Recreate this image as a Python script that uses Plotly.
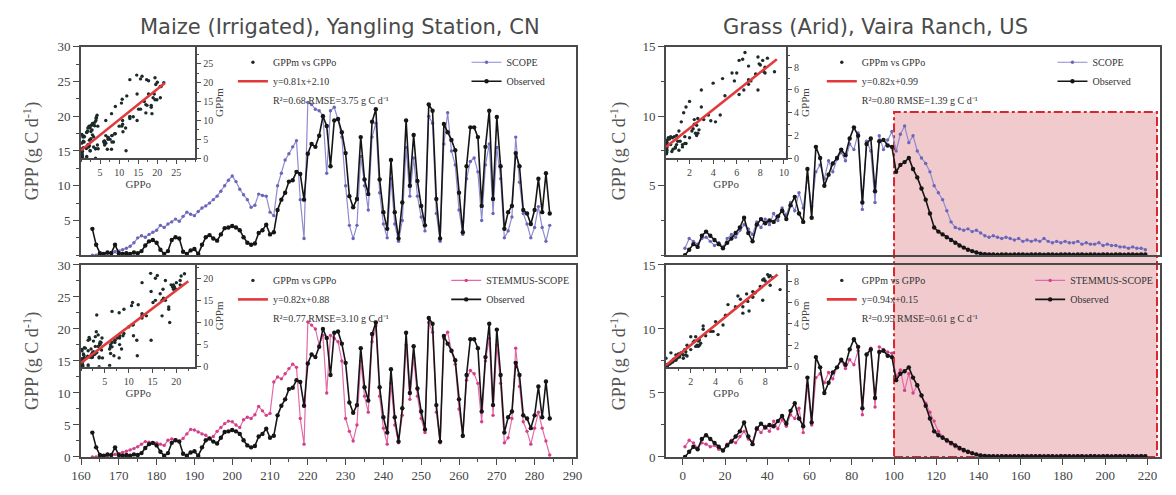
import plotly.graph_objects as go

W, H = 1176, 495

# ---------------- Data: Maize (Irrigated), Yangling Station ----------------
maize_days = list(range(163, 285))
maize_obs = [3.8, 1.5, 0.3, 0.2, 0.4, 0.3, 1.5, 0.3, 0.2, 0.3,
             0.2, 0.4, 0.3, 0.6, 1.4, 2.0, 2.2, 1.8, 0.8, 0.2,
             0.6, 2.2, 2.6, 2.4, 0.5, 0.2, 0.7, 0.9, 0.2, 1.5,
             2.6, 2.9, 2.4, 2.1, 3.0, 3.9, 4.0, 4.2, 4.0, 3.6,
             2.6, 1.8, 1.5, 1.7, 3.2, 3.6, 4.4, 3.0, 3.3, 6.5,
             8.0, 9.0, 10.6, 10.8, 12.0, 11.7, 8.0, 14.6, 16.0, 15.6,
             17.2, 20.0, 18.6, 12.8, 19.4, 19.6, 17.7, 14.7, 8.5, 6.9,
             8.1, 17.0, 10.9, 8.8, 19.2, 21.0, 10.9, 6.2, 3.8, 13.7,
             6.2, 2.4, 7.6, 19.4, 10.0, 17.3, 10.7, 7.1, 4.3, 21.7,
             20.8, 8.1, 2.4, 18.9, 17.7, 16.6, 15.1, 9.0, 3.3, 12.8,
             18.4, 18.4, 17.0, 7.1, 15.6, 20.8, 8.1, 19.9, 12.8, 3.8,
             6.2, 7.1, 14.7, 12.8, 6.5, 6.0, 4.5, 6.5, 11.0, 6.2,
             11.8, 6.0]
maize_scope = [0.0, 0.0, 0.1, 0.2, 0.3, 0.4, 0.5, 0.6, 0.8, 1.0,
               1.3, 1.8, 2.5, 2.8, 2.6, 3.0, 3.3, 3.6, 4.3, 4.0,
               4.5, 4.8, 5.2, 4.9, 5.6, 6.2, 5.9, 5.7, 6.3, 6.8,
               7.1, 7.5, 8.0, 8.5, 9.2, 10.0, 10.8, 11.4, 10.6, 9.5,
               8.7, 8.0, 6.9, 7.2, 8.8, 8.6, 8.5, 6.2, 5.7, 10.0,
               11.8, 13.7, 14.6, 15.6, 16.5, 8.0, 2.4, 22.0, 21.7, 21.0,
               20.8, 20.1, 11.8, 20.8, 21.3, 19.5, 17.0, 10.0, 4.3, 2.4,
               4.3, 14.2, 10.0, 6.5, 17.0, 19.0, 9.0, 4.5, 2.5, 11.0,
               4.5, 2.0, 5.0, 15.5, 8.5, 14.0, 8.5, 5.5, 3.5, 20.0,
               19.0, 6.0, 2.0, 16.0, 20.5, 15.0, 13.0, 6.5, 3.0, 11.0,
               13.5, 14.0, 12.0, 5.0, 13.0, 16.0, 6.0, 15.5, 11.0, 2.5,
               3.5, 5.5, 17.0, 10.5, 6.0, 4.5, 2.5, 4.0, 7.0, 4.0,
               2.0, 4.3]
maize_stemmus = [0.0, 0.0, 0.0, 0.1, 0.2, 0.3, 0.4, 0.5, 0.7, 0.9,
                 1.1, 1.3, 1.6, 2.0, 2.4, 2.3, 2.1, 2.2, 2.0, 1.8,
                 2.6, 2.8, 2.7, 2.5, 2.9, 3.6, 4.3, 4.2, 3.9, 3.6,
                 3.4, 2.8, 3.2, 4.0, 4.6, 5.2, 5.6, 5.5, 5.0, 4.6,
                 5.8, 6.2, 6.0, 6.6, 7.9, 7.2, 6.5, 6.8, 11.7, 12.5,
                 12.2, 13.0, 13.8, 14.5, 14.0, 6.0, 2.0, 21.1, 20.6, 20.0,
                 17.5, 19.0, 10.0, 19.0, 18.5, 18.0, 15.0, 6.0, 4.0, 2.5,
                 5.0, 15.0, 9.5, 7.0, 18.0, 20.5, 9.5, 4.5, 2.0, 11.5,
                 5.0, 2.2, 6.5, 17.5, 9.0, 15.5, 9.5, 6.0, 3.8, 21.0,
                 19.5, 7.0, 2.2, 18.5, 19.5, 16.5, 14.5, 7.5, 3.2, 12.0,
                 13.5, 13.0, 11.5, 5.5, 15.0, 18.5, 6.5, 17.5, 11.5, 2.2,
                 3.0, 6.0, 17.0, 11.0, 5.5, 4.0, 2.0, 4.5, 7.0, 4.5,
                 2.5, 0.3]

# ---------------- Data: Grass (Arid), Vaira Ranch ----------------
vaira_days = list(range(1, 220, 2))
vaira_obs = [0.0, 0.4, 0.8, 0.6, 1.4, 1.7, 1.4, 1.1, 0.8, 0.5,
             0.9, 1.2, 1.6, 2.0, 2.7, 1.6, 1.0, 2.2, 2.6, 2.3,
             2.5, 2.4, 2.8, 3.2, 2.6, 3.6, 4.2, 3.0, 2.4, 6.2,
             2.7, 7.8, 7.0, 5.0, 5.8, 6.6, 7.0, 7.6, 7.2, 8.4,
             9.2, 8.6, 3.8, 8.0, 8.4, 4.6, 8.2, 8.3, 7.9, 7.8,
             6.0, 6.5, 6.7, 7.0, 6.2, 5.6, 4.8, 4.0, 3.0, 2.0,
             1.7, 1.5, 1.3, 1.1, 0.9, 0.7, 0.55, 0.4, 0.3, 0.2,
             0.12, 0.08, 0.05, 0.05, 0.04, 0.05, 0.05, 0.04, 0.05, 0.05,
             0.05, 0.04, 0.05, 0.05, 0.05, 0.04, 0.05, 0.05, 0.04, 0.05,
             0.05, 0.05, 0.04, 0.05, 0.05, 0.04, 0.05, 0.05, 0.04, 0.05,
             0.05, 0.04, 0.05, 0.05, 0.04, 0.05, 0.05, 0.04, 0.05, 0.05]
vaira_scope = [0.5, 1.2, 1.0, 0.8, 1.2, 1.3, 1.0, 0.7, 0.9, 0.6,
               1.2, 1.5, 1.3, 1.8, 2.2, 1.9, 1.5, 2.4, 2.0, 2.6,
               2.2, 3.0, 2.5, 3.4, 2.9, 3.8, 3.2, 4.5, 3.4, 5.6,
               3.5, 6.0, 6.5, 5.5, 6.8, 6.0, 6.9, 7.4, 6.8, 8.0,
               7.6, 8.8, 3.3, 8.2, 7.5, 3.8, 8.6, 7.6, 8.3, 8.9,
               7.5, 8.7, 9.3, 8.1, 8.6, 7.5, 7.0, 6.6, 6.0, 5.0,
               4.5, 4.0, 3.2, 2.4, 2.0, 1.9, 1.8, 1.9, 1.7, 1.8,
               1.6, 1.4, 1.3, 1.4, 1.3, 1.2, 1.3, 1.2, 1.1, 1.2,
               1.0, 1.1, 1.0, 1.1, 1.0, 1.2, 1.0, 0.9, 1.0, 0.9,
               1.0, 0.9, 0.9, 1.0, 0.8, 0.9, 0.8, 0.8, 0.9, 0.7,
               0.8, 0.7, 0.7, 0.6, 0.6, 0.5, 0.6, 0.5, 0.5, 0.4]
vaira_stemmus = [0.8, 1.3, 1.1, 0.7, 1.1, 1.0, 0.8, 0.9, 0.6, 0.5,
                 1.0, 1.3, 1.1, 1.6, 2.0, 1.4, 1.2, 2.3, 1.9, 2.4,
                 2.0, 2.8, 2.2, 2.9, 2.4, 3.3, 3.0, 3.8, 1.9, 5.6,
                 2.5, 6.2, 6.5, 5.8, 6.6, 6.1, 7.0, 7.5, 6.9, 7.6,
                 7.2, 8.3, 3.3, 8.0, 8.5, 3.9, 8.6, 8.4, 8.2, 8.1,
                 6.3, 6.8, 5.2, 6.5, 5.0, 5.6, 4.8, 4.2, 3.5, 2.8,
                 2.0, 1.6, 1.2, 1.0, 0.8, 0.6, 0.45, 0.35, 0.25, 0.2,
                 0.15, 0.12, 0.1, 0.1, 0.12, 0.1, 0.1, 0.12, 0.1, 0.1,
                 0.1, 0.12, 0.1, 0.1, 0.1, 0.12, 0.1, 0.1, 0.1, 0.12,
                 0.1, 0.1, 0.12, 0.1, 0.1, 0.1, 0.12, 0.1, 0.1, 0.1,
                 0.12, 0.1, 0.1, 0.1, 0.12, 0.1, 0.1, 0.1, 0.12, 0.1]

# regression lines / statistics shown in each panel
fit_slope = [0.81, 0.82, 0.82, 0.94]
fit_intercept = [2.10, 0.88, 0.99, 0.15]
fit_xmax = [22.0, 22.5, 9.4, 9.0]
fit_label = ["y=0.81x+2.10", "y=0.82x+0.88", "y=0.82x+0.99", "y=0.94x+0.15"]
stat_label = ["R²=0.68 RMSE=3.75 g C d⁻¹", "R²=0.77 RMSE=3.10 g C d⁻¹",
              "R²=0.80 RMSE=1.39 g C d⁻¹", "R²=0.95 RMSE=0.61 g C d⁻¹"]
model_names = ["SCOPE", "STEMMUS-SCOPE", "SCOPE", "STEMMUS-SCOPE"]
col_titles = ["Maize (Irrigated), Yangling Station, CN", "Grass (Arid), Vaira Ranch, US"]

# post-drought window in the Vaira Ranch panels
shade_x = [100, 224.5]
shade_top = 10.3

# ---------------- Styling ----------------
SERIF = "Liberation Serif"
AX = "#4a4a4a"
SCOPE_LINE, SCOPE_MK = "#8d8bd0", "#6a66b8"
STEM_LINE, STEM_MK = "#e36aa8", "#d43f88"
OBS_C = "#151515"
RED = "#e23a3c"


def fx(px):
    return px / W


def fy(py):
    return 1 - py / H


LEFT = (72, 574)
RIGHT = (665, 1166)
TOP = (41, 256)
BOT = (266, 464)

panels = [
    dict(col=LEFT, row=TOP, days=maize_days, obs=maize_obs, mod=maize_scope,
         lc=SCOPE_LINE, mc=SCOPE_MK, xr=[160, 291], yr=[0, 30], xt0=160, xdt=10,
         yt=[5, 10, 15, 20, 25, 30], ymin=2.5, bottom=False, iw=116, ih=115,
         ixr=[0, 30], iyr=[0, 29.5], ixt=[5, 10, 15, 20, 25], iyt=[0, 5, 10, 15, 20, 25], imin=2.5,
         lg1x=226, lg2r=548, ystand=14),
    dict(col=LEFT, row=BOT, days=maize_days, obs=maize_obs, mod=maize_stemmus,
         lc=STEM_LINE, mc=STEM_MK, xr=[160, 291], yr=[0, 30], xt0=160, xdt=10,
         yt=[0, 5, 10, 15, 20, 25, 30], ymin=2.5, bottom=True, iw=116, ih=105,
         ixr=[0, 24], iyr=[0, 23], ixt=[5, 10, 15, 20], iyt=[0, 5, 10, 15, 20], imin=2.5,
         lg1x=226, lg2r=572, ystand=14),
    dict(col=RIGHT, row=TOP, days=vaira_days, obs=vaira_obs, mod=vaira_scope,
         lc=SCOPE_LINE, mc=SCOPE_MK, xr=[-8, 226], yr=[0, 15], xt0=0, xdt=20,
         yt=[5, 10, 15], ymin=2.5, bottom=False, iw=122, ih=115,
         ixr=[0, 10.2], iyr=[0, 9.8], ixt=[2, 4, 6, 8, 10], iyt=[0, 2, 4, 6, 8], imin=1,
         lg1x=823, lg2r=1142, ystand=12),
    dict(col=RIGHT, row=BOT, days=vaira_days, obs=vaira_obs, mod=vaira_stemmus,
         lc=STEM_LINE, mc=STEM_MK, xr=[-8, 226], yr=[0, 15], xt0=0, xdt=20,
         yt=[0, 5, 10, 15], ymin=2.5, bottom=True, iw=122, ih=105,
         ixr=[0, 9.7], iyr=[0, 9.5], ixt=[2, 4, 6, 8], iyt=[0, 2, 4, 6, 8], imin=1,
         lg1x=823, lg2r=1164, ystand=12),
]

fig = go.Figure()
layout = dict(
    width=W, height=H, margin=dict(l=0, r=0, t=0, b=0),
    paper_bgcolor="white", plot_bgcolor="rgba(0,0,0,0)",
    showlegend=True, shapes=[], annotations=[],
)

axis_common = dict(showline=True, linecolor=AX, linewidth=1.6, mirror=True,
                   showgrid=False, zeroline=False, tickcolor=AX, tickwidth=1.4,
                   tickfont=dict(family=SERIF, size=13, color="#444"))

for i, p in enumerate(panels):
    m = i + 1
    n = i + 5
    xa = "x" if m == 1 else f"x{m}"
    ya = "y" if m == 1 else f"y{m}"
    lg1 = "legend" if i == 0 else f"legend{2 * i + 1}"
    lg2 = f"legend{2 * i + 2}"

    # ---- inset scatter GPPm vs GPPo ----
    fig.add_trace(go.Scatter(x=p["obs"], y=p["mod"], mode="markers",
                             marker=dict(size=3.4, color="#1d2a2a"),
                             name="GPPm vs GPPo", xaxis=f"x{n}", yaxis=f"y{n}", legend=lg1))
    fxs = [0, fit_xmax[i]]
    fig.add_trace(go.Scatter(x=fxs, y=[fit_slope[i] * v + fit_intercept[i] for v in fxs],
                             mode="lines", line=dict(color=RED, width=2.6),
                             name=fit_label[i], xaxis=f"x{n}", yaxis=f"y{n}", legend=lg1))
    # statistics line shown as a text-only legend row
    fig.add_trace(go.Scatter(x=[None], y=[None], mode="lines",
                             line=dict(color="rgba(0,0,0,0)", width=0),
                             name=stat_label[i], xaxis=f"x{n}", yaxis=f"y{n}", legend=lg1,
                             hoverinfo="skip"))
    # ---- main time series ----
    fig.add_trace(go.Scatter(x=p["days"], y=p["mod"], mode="lines+markers",
                             line=dict(color=p["lc"], width=1.2),
                             marker=dict(size=3.4, color=p["mc"]),
                             name=model_names[i], xaxis=xa, yaxis=ya, legend=lg2))
    fig.add_trace(go.Scatter(x=p["days"], y=p["obs"], mode="lines+markers",
                             line=dict(color=OBS_C, width=1.6),
                             marker=dict(size=4.4, color=OBS_C),
                             name="Observed", xaxis=xa, yaxis=ya, legend=lg2))

    xdom = [fx(p["col"][0]), fx(p["col"][1])]
    ydom = [fy(p["row"][1]), fy(p["row"][0])]
    xkey = "xaxis" if m == 1 else f"xaxis{m}"
    ykey = "yaxis" if m == 1 else f"yaxis{m}"
    layout[xkey] = dict(axis_common, domain=xdom, range=p["xr"], anchor=ya,
                        tickmode="linear", tick0=p["xt0"], dtick=p["xdt"],
                        ticks="outside" if p["bottom"] else "", ticklen=6,
                        showticklabels=p["bottom"],
                        minor=dict(ticks="outside" if p["bottom"] else "", ticklen=3,
                                   dtick=p["xdt"] / 2, tick0=p["xt0"], tickcolor=AX))
    layout[ykey] = dict(axis_common, domain=ydom, range=p["yr"], anchor=xa,
                        tickmode="array", tickvals=p["yt"], ticks="outside", ticklen=6,
                        minor=dict(ticks="outside", ticklen=3, tickmode="linear",
                                   tick0=0, dtick=p["ymin"], tickcolor=AX),
                        title=dict(text="GPP (g C d<sup>-1</sup>)", standoff=p["ystand"],
                                   font=dict(family=SERIF, size=18, color="#555")))

    # ---- inset axes ----
    ixdom = [fx(p["col"][0]), fx(p["col"][0] + p["iw"])]
    iydom = [fy(p["row"][0] + p["ih"]), fy(p["row"][0])]
    small = dict(family=SERIF, size=10, color="#444")
    layout[f"xaxis{n}"] = dict(axis_common, domain=ixdom, range=p["ixr"], anchor=f"y{n}",
                               tickmode="array", tickvals=p["ixt"], ticks="outside", ticklen=4,
                               tickfont=small,
                               minor=dict(ticks="outside", ticklen=2, tickmode="linear",
                                          tick0=0, dtick=p["imin"], tickcolor=AX),
                               title=dict(text="GPPo", standoff=2,
                                          font=dict(family=SERIF, size=11, color="#444")))
    layout[f"yaxis{n}"] = dict(axis_common, domain=iydom, range=p["iyr"], anchor=f"x{n}",
                               side="right", tickmode="array", tickvals=p["iyt"],
                               ticks="outside", ticklen=4, tickfont=small,
                               minor=dict(ticks="outside", ticklen=2, tickmode="linear",
                                          tick0=0, dtick=p["imin"], tickcolor=AX),
                               title=dict(text="GPPm", standoff=2,
                                          font=dict(family=SERIF, size=11, color="#444")))

    # ---- legends ----
    lgfont = dict(family=SERIF, size=10, color="#333")
    top_px = p["row"][0]
    base = dict(y=fy(top_px + 1), yanchor="top", bgcolor="rgba(0,0,0,0)", font=lgfont,
                tracegroupgap=0, itemwidth=30, borderwidth=0)
    layout[lg1] = dict(base, x=fx(p["lg1x"]), xanchor="left")
    layout[lg2] = dict(base, x=fx(p["lg2r"]), xanchor="right")

# shaded post-drought window in the Vaira Ranch panels (spans both rows)
top_dom = [fy(TOP[1]), fy(TOP[0])]
bot_dom = [fy(BOT[1]), fy(BOT[0])]
y1_paper = top_dom[0] + shade_top / 15 * (top_dom[1] - top_dom[0])
layout["shapes"].append(dict(type="rect", xref="x3", yref="paper",
                             x0=shade_x[0], x1=shade_x[1], y0=bot_dom[0], y1=y1_paper,
                             fillcolor="rgba(228,150,158,0.5)",
                             line=dict(color="#d8262c", width=2, dash="dashdot"),
                             layer="below"))

# column titles
for t, cx in zip(col_titles, (335, 877)):
    layout["annotations"].append(dict(text=t, x=fx(cx), y=fy(21), xref="paper", yref="paper",
                                      xanchor="center", yanchor="middle", showarrow=False,
                                      font=dict(family="DejaVu Sans", size=21, color="#4a4a4a")))

fig.update_layout(**layout)
fig.write_html("out.html", config={"displayModeBar": False},
               post_script="document.body.style.margin='0';")
